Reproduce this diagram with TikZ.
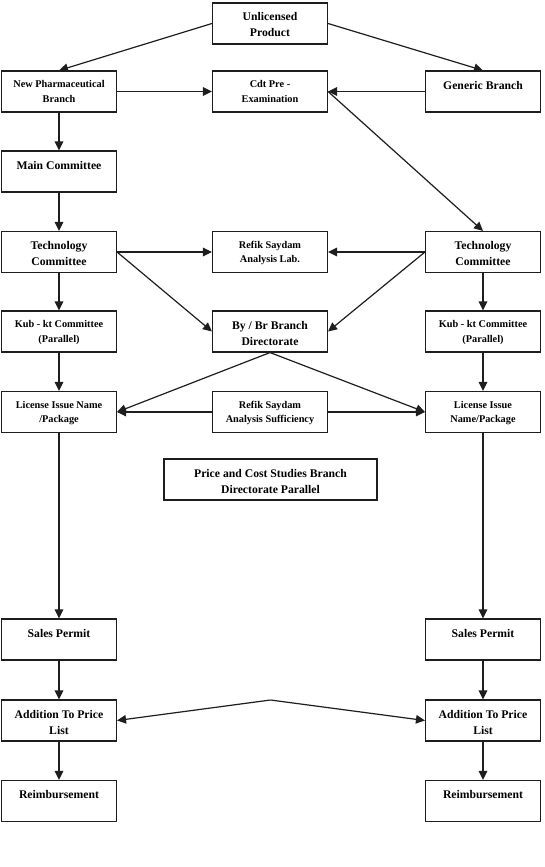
\documentclass[tikz,border=0pt]{standalone}
\usepackage{fontspec}
\setmainfont{Liberation Serif}
\usetikzlibrary{arrows.meta}
\definecolor{ink}{HTML}{1E1E1E}
\newcommand{\BT}[1]{\parbox[c][41pt][t]{113pt}{\centering\fontsize{11.7}{16}\selectfont\bfseries\rule{0pt}{18pt}#1}}
\newcommand{\ST}[1]{\parbox[c][41pt][t]{113pt}{\centering\fontsize{10.3}{14.5}\selectfont\bfseries\rule{0pt}{16.5pt}#1}}
\newcommand{\WT}[1]{\parbox[c][41pt][t]{211pt}{\centering\fontsize{11.7}{16}\selectfont\bfseries\rule{0pt}{18pt}#1}}
\begin{document}
\begin{tikzpicture}[x=1pt,y=-1pt,
  box/.style={draw=ink,line width=1.1pt,rectangle,inner sep=0pt,minimum width=115pt,minimum height=41pt,fill=white},
  arr/.style={draw=ink,line width=1.2pt,-{Triangle[length=9pt,width=8.5pt]}},
  ln/.style={draw=ink,line width=1.2pt}]
\useasboundingbox[fill=white] (0,0) rectangle (545,867);
% nodes
\node[box] (U)  at (270,23.5) {\BT{Unlicensed\\Product}};
\node[box] (NP) at (59,91.5) {\ST{New Pharmaceutical\\Branch}};
\node[box] (CD) at (270,91.5) {\ST{Cdt Pre -\\Examination}};
\node[box] (GB) at (483,91.5) {\BT{Generic Branch}};
\node[box] (MC) at (59,171.5) {\BT{Main Committee}};
\node[box] (TL) at (59,252) {\BT{Technology\\Committee}};
\node[box] (RL) at (270,252) {\ST{Refik Saydam\\Analysis Lab.}};
\node[box] (TR) at (483,252) {\BT{Technology\\Committee}};
\node[box] (KL) at (59,331.5) {\ST{Kub - kt Committee\\(Parallel)}};
\node[box] (BY) at (270,331.5) {\BT{By / Br Branch\\Directorate}};
\node[box] (KR) at (483,331.5) {\ST{Kub - kt Committee\\(Parallel)}};
\node[box] (LL) at (59,412) {\ST{License Issue Name\\/Package}};
\node[box] (RS) at (270,412) {\ST{Refik Saydam\\Analysis Sufficiency}};
\node[box] (LR) at (483,412) {\ST{License Issue\\Name/Package}};
\node[box,minimum width=213pt] (PC) at (270.5,479.5) {\WT{Price and Cost Studies Branch\\Directorate Parallel}};
\node[box] (SL) at (59,639.5) {\BT{Sales Permit}};
\node[box] (SR) at (483,639.5) {\BT{Sales Permit}};
\node[box] (AL) at (59,720.5) {\BT{Addition To Price\\List}};
\node[box] (AR) at (483,720.5) {\BT{Addition To Price\\List}};
\node[box] (EL) at (59,801) {\BT{Reimbursement}};
\node[box] (ER) at (483,801) {\BT{Reimbursement}};
\coordinate (peak) at (270.5,700);
% connectors
\draw[arr] (U.west) -- (NP.north);
\draw[arr] (U.east) -- (GB.north);
\draw[arr] (NP.east) -- (CD.west);
\draw[arr] (GB.west) -- (CD.east);
\draw[arr] (CD.east) -- (TR.north);
\draw[arr] (NP.south) -- (MC.north);
\draw[arr] (MC.south) -- (TL.north);
\draw[arr] (TL.east) -- (RL.west);
\draw[arr] (TR.west) -- (RL.east);
\draw[arr] (TL.east) -- (BY.west);
\draw[arr] (TR.west) -- (BY.east);
\draw[arr] (TL.south) -- (KL.north);
\draw[arr] (KL.south) -- (LL.north);
\draw[arr] (TR.south) -- (KR.north);
\draw[arr] (KR.south) -- (LR.north);
\draw[arr] (BY.south) -- (LL.east);
\draw[arr] (BY.south) -- (LR.west);
\draw[arr] (RS.west) -- (LL.east);
\draw[arr] (RS.east) -- (LR.west);
\draw[arr] (LL.south) -- (SL.north);
\draw[arr] (LR.south) -- (SR.north);
\draw[arr] (SL.south) -- (AL.north);
\draw[arr] (SR.south) -- (AR.north);
\draw[arr] (AL.south) -- (EL.north);
\draw[arr] (AR.south) -- (ER.north);
\draw[arr] (peak) -- (AL.east);
\draw[arr] (peak) -- (AR.west);
\end{tikzpicture}
\end{document}
